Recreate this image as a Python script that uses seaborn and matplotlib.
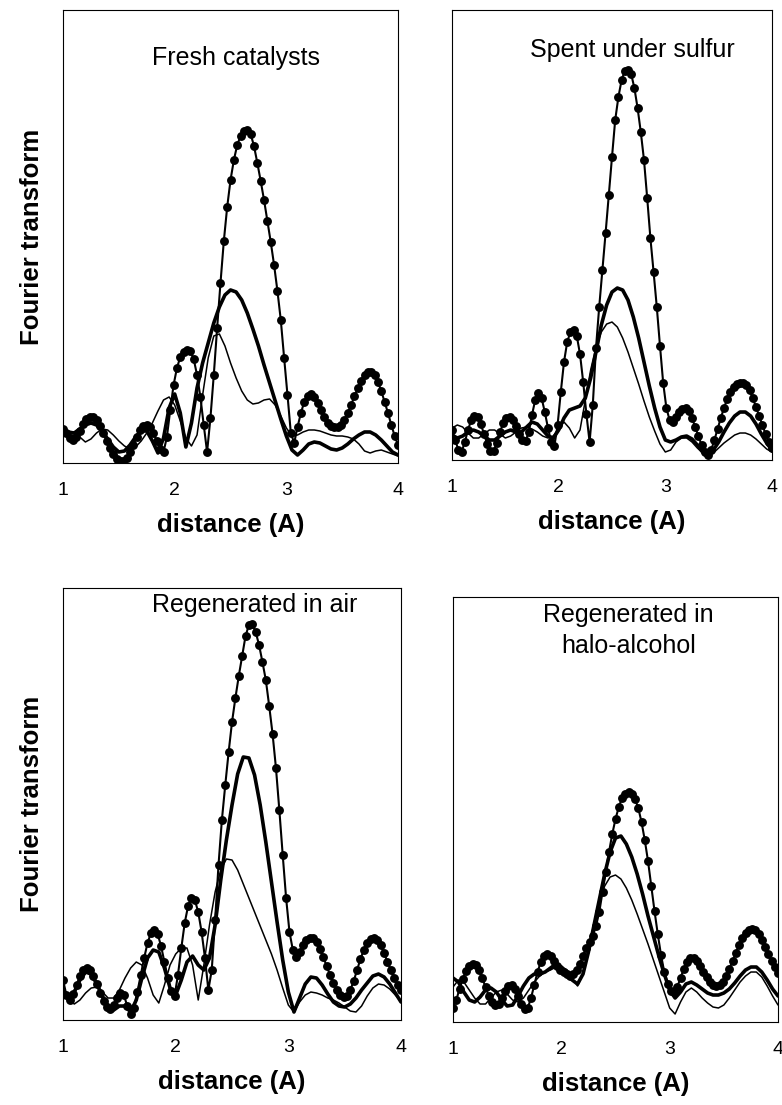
import numpy as np
import matplotlib
matplotlib.use("Agg")
import matplotlib.pyplot as plt
import seaborn as sns

# sampling grids (distance, A): dotted series every 0.03, plain lines every 0.05
r_dots = np.linspace(1, 4, 101)
r_line = np.linspace(1, 4, 61)

# --- Fresh catalysts (FT magnitude, arbitrary units) ---
fresh_dots = [34, 30, 25, 23, 26, 32, 39, 44, 46, 46,
              43, 37, 30, 22, 15, 9, 4, 2, 2, 5,
              11, 18, 26, 33, 37, 38, 36, 30, 22, 14,
              11, 26, 53, 78, 95, 106, 111, 113, 112, 104,
              88, 66, 38, 11, 45, 88, 135, 180, 222, 256,
              283, 303, 318, 327, 332, 333, 329, 317, 300, 282,
              263, 242, 221, 198, 172, 143, 105, 68, 30, 20,
              36, 50, 61, 67, 69, 66, 60, 53, 46, 40,
              37, 36, 36, 38, 43, 50, 58, 67, 75, 82,
              88, 91, 91, 88, 81, 72, 61, 50, 38, 27,
              18]
fresh_thick = [32, 30, 30, 34, 38, 40, 38, 32, 24, 16,
               11, 12, 18, 26, 32, 32, 22, 10, 25, 55,
               69, 50, 16, 40, 75, 100, 120, 140, 156, 168,
               173, 171, 163, 150, 134, 117, 98, 80, 62, 44,
               27, 13, 8, 13, 19, 21, 20, 17, 14, 13,
               15, 19, 24, 28, 31, 31, 28, 23, 17, 11,
               8]
fresh_thin = [30, 32, 31, 26, 21, 24, 30, 34, 33, 28,
              22, 17, 14, 16, 22, 30, 40, 52, 63, 66,
              58, 42, 25, 17, 28, 68, 105, 127, 129, 117,
              100, 85, 72, 63, 59, 60, 63, 64, 58, 47,
              35, 27, 28, 31, 33, 33, 32, 30, 28, 27,
              27, 26, 24, 19, 12, 10, 12, 13, 11, 9,
              7]

# --- Spent under sulfur ---
spent_dots = [30, 20, 10, 8, 18, 30, 40, 44, 43, 36,
              26, 16, 9, 9, 17, 28, 37, 42, 43, 40,
              34, 26, 20, 19, 28, 45, 60, 67, 62, 48,
              32, 18, 14, 35, 68, 98, 118, 128, 130, 124,
              106, 78, 46, 18, 55, 112, 153, 190, 227, 265,
              303, 340, 363, 380, 389, 390, 386, 372, 352, 328,
              300, 262, 222, 188, 153, 114, 77, 52, 40, 38,
              43, 48, 51, 52, 49, 42, 33, 24, 15, 8,
              5, 10, 20, 31, 42, 52, 61, 68, 73, 76,
              77, 77, 75, 70, 62, 53, 44, 35, 26, 18,
              12]
spent_thick = [25, 22, 24, 28, 30, 28, 24, 20, 20, 24,
               28, 30, 28, 28, 33, 38, 36, 30, 24, 22,
               30, 42, 50, 52, 54, 62, 82, 108, 135, 155,
               168, 172, 170, 160, 143, 122, 98, 74, 52, 33,
               20, 18, 20, 23, 24, 21, 15, 8, 5, 10,
               18, 28, 37, 44, 48, 48, 44, 36, 26, 17,
               10]
spent_thin = [32, 35, 33, 27, 22, 22, 26, 30, 30, 26,
              22, 24, 28, 32, 33, 31, 28, 24, 22, 24,
              32, 38, 32, 22, 30, 60, 90, 113, 128, 136,
              138, 133, 122, 108, 92, 76, 59, 43, 29, 16,
              8, 10, 18, 22, 22, 18, 12, 7, 5, 7,
              12, 17, 21, 25, 27, 27, 25, 21, 16, 11,
              8]

# --- Regenerated in air ---
air_dots = [40, 25, 20, 26, 35, 44, 50, 52, 50, 44,
            36, 27, 19, 13, 11, 15, 22, 27, 25, 14,
            6, 12, 28, 45, 62, 77, 87, 90, 86, 74,
            58, 42, 29, 24, 45, 72, 97, 114, 122, 120,
            108, 88, 62, 30, 50, 100, 155, 200, 235, 268,
            298, 322, 344, 364, 384, 395, 396, 388, 375, 358,
            340, 314, 286, 252, 210, 165, 122, 88, 70, 63,
            68, 75, 80, 82, 82, 78, 71, 63, 54, 45,
            37, 30, 25, 23, 24, 30, 39, 50, 61, 70,
            77, 81, 82, 80, 75, 67, 58, 50, 42, 35,
            30]
air_thick = [30, 22, 28, 40, 48, 46, 36, 24, 14, 10,
             14, 14, 8, 20, 42, 62, 70, 68, 52, 32,
             25, 40, 58, 64, 55, 50, 62, 95, 140, 180,
             215, 246, 263, 262, 245, 215, 178, 138, 98, 60,
             28, 8, 22, 36, 43, 42, 35, 26, 18, 14,
             13, 16, 22, 30, 37, 44, 46, 43, 36, 27,
             18]
air_thin = [28, 20, 16, 20, 27, 32, 33, 28, 22, 22,
            30, 42, 52, 58, 55, 42, 25, 17, 35, 55,
            66, 72, 72, 55, 20, 55, 95, 128, 150, 161,
            160, 150, 136, 122, 108, 94, 80, 66, 50, 32,
            15, 8, 18, 25, 28, 27, 25, 22, 20, 17,
            13, 9, 8, 14, 24, 32, 36, 35, 31, 25,
            19]

# --- Regenerated in halo-alcohol ---
halo_dots = [14, 22, 33, 43, 51, 56, 58, 57, 52, 44,
             35, 26, 20, 17, 18, 24, 31, 36, 37, 33,
             26, 18, 13, 14, 24, 37, 50, 60, 66, 68,
             66, 61, 56, 52, 50, 48, 46, 48, 52, 58,
             66, 74, 80, 86, 96, 110, 130, 150, 170, 188,
             203, 215, 224, 228, 230, 228, 223, 214, 200, 182,
             161, 136, 111, 88, 67, 50, 38, 31, 30, 35,
             44, 53, 60, 64, 64, 61, 56, 50, 45, 40,
             37, 36, 37, 40, 46, 53, 61, 69, 77, 84,
             89, 92, 93, 92, 88, 82, 75, 68, 61, 55,
             49]
halo_thick = [44, 40, 30, 22, 20, 25, 32, 34, 30, 22,
              16, 17, 26, 36, 44, 48, 48, 50, 54, 58,
              55, 48, 42, 38, 48, 70, 96, 122, 148, 170,
              184, 186, 178, 165, 148, 128, 106, 86, 66, 48,
              32, 24, 30, 38, 40, 37, 33, 29, 27, 27,
              29, 33, 39, 46, 52, 55, 55, 50, 42, 33,
              26]
halo_thin = [35, 42, 40, 32, 24, 18, 18, 24, 30, 32,
             28, 22, 20, 24, 32, 40, 46, 50, 52, 55,
             56, 52, 44, 36, 48, 72, 98, 120, 136, 145,
             147, 143, 134, 122, 108, 93, 78, 62, 46, 30,
             14, 8, 20, 30, 34, 30, 24, 19, 15, 14,
             17, 24, 32, 40, 46, 50, 50, 45, 36, 26,
             17]

titles = ["Fresh catalysts", "Spent under sulfur",
          "Regenerated in air", "Regenerated in\nhalo-alcohol"]
x_ticks = [1, 2, 3, 4]

sns.set_style("white")
plt.rcParams["font.family"] = ["Liberation Sans", "DejaVu Sans"]
plt.rcParams["text.color"] = "black"
plt.rcParams["axes.labelcolor"] = "black"

fig = plt.figure(figsize=(7.82, 11.05), dpi=100)

# axes rectangles, y-limits and title placement per panel
panels = [
    (fresh_dots, fresh_thick, fresh_thin, [0.0806, 0.581, 0.4284, 0.410], 453, (0.516, 0.893), True),
    (spent_dots, spent_thick, spent_thin, [0.578, 0.5837, 0.4092, 0.4072], 450, (0.564, 0.912), False),
    (air_dots, air_thick, air_thin, [0.0806, 0.0769, 0.4322, 0.391], 432, (0.568, 0.96), True),
    (halo_dots, halo_thick, halo_thin, [0.5793, 0.0751, 0.4156, 0.3846], 425, (0.54, 0.922), False),
]

for title, (dots, thick, thin, rect, top, tpos, ylab) in zip(titles, panels):
    assert len(dots) == len(r_dots) and len(thick) == len(r_line) and len(thin) == len(r_line)
    ax = fig.add_axes(rect)
    sns.lineplot(x=r_line, y=thin, ax=ax, color="black", lw=1.1, zorder=2)
    sns.lineplot(x=r_line, y=thick, ax=ax, color="black", lw=2.6, zorder=3)
    sns.lineplot(x=r_dots, y=dots, ax=ax, color="black", lw=1.5, marker="o",
                 markersize=6.4, markeredgewidth=0, zorder=4)
    ax.set_xlim(1, 4)
    ax.set_ylim(0, top)
    ax.set_xticks(x_ticks)
    ax.set_xticklabels([str(t) for t in x_ticks], fontsize=14)
    ax.set_yticks([])
    ax.tick_params(axis="x", direction="out", length=4, width=0.8, pad=10, colors="black")
    for s in ax.spines.values():
        s.set_visible(True)
        s.set_color("black")
        s.set_linewidth(0.8)
    ax.set_xlabel("distance (A)", fontsize=18.5, fontweight="bold", labelpad=10)
    if ylab:
        ax.set_ylabel("Fourier transform", fontsize=18.5, fontweight="bold", labelpad=14)
    else:
        ax.set_ylabel("")
    ax.text(tpos[0], tpos[1], title, transform=ax.transAxes, ha="center", va="center",
            fontsize=18, linespacing=1.35)

fig.savefig("out.png", dpi=100)
